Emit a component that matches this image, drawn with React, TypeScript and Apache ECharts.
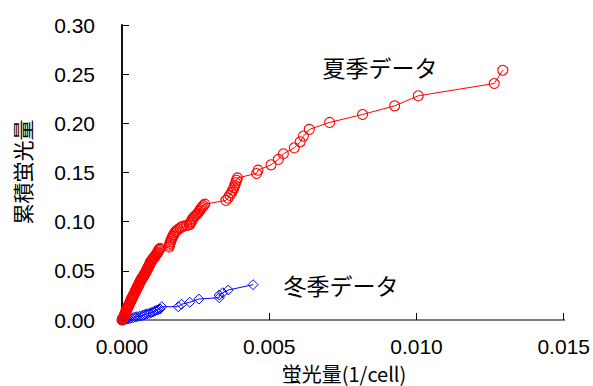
import React, { useEffect, useRef } from "react";
import * as echarts from "echarts";

const xTicks = [0, 0.005, 0.01, 0.015];
const yTicks = [0, 0.05, 0.1, 0.15, 0.2, 0.25, 0.3];

const summerX = [
  0, 0.00001, 0.00002, 0.00003, 0.00005, 0.00006, 0.00007, 0.00009, 0.0001, 0.00011, 0.00013, 0.00014, 0.00016,
  0.00017, 0.00018, 0.0002, 0.00021, 0.00022, 0.00024, 0.00025, 0.00027, 0.00028, 0.0003, 0.00031, 0.00032,
  0.00034, 0.00035, 0.00037, 0.00038, 0.00039, 0.00041, 0.00042, 0.00044, 0.00045, 0.00046, 0.00048, 0.00049,
  0.00051, 0.00052, 0.00054, 0.00055, 0.00056, 0.00058, 0.00059, 0.00061, 0.00062, 0.00064, 0.00065, 0.00067,
  0.00068, 0.0007, 0.00071, 0.00073, 0.00075, 0.00076, 0.00078, 0.0008, 0.00081, 0.00083, 0.00085, 0.00086,
  0.00088, 0.0009, 0.00091, 0.00093, 0.00095, 0.00097, 0.00098, 0.001, 0.00102, 0.00104, 0.00106, 0.00108,
  0.0011, 0.00112, 0.00114, 0.00116, 0.00118, 0.0012, 0.00122, 0.00125, 0.00127, 0.00129,
  0.0016, 0.00161, 0.00163, 0.00165, 0.00167, 0.0017, 0.00173, 0.00175, 0.00178, 0.00182, 0.00187, 0.00192,
  0.00198, 0.00203, 0.0021, 0.0022, 0.00229, 0.00232, 0.00235, 0.00238, 0.00241, 0.00245, 0.0025, 0.00254,
  0.00258, 0.00262, 0.00265, 0.00268, 0.00272, 0.00276, 0.00281,
  0.00353, 0.0036, 0.00366, 0.00372, 0.00376, 0.0038, 0.00383, 0.00386, 0.00389, 0.00392,
  0.00457, 0.00462, 0.00506, 0.00531, 0.00548, 0.00585, 0.00605, 0.00616, 0.00636, 0.00705, 0.00817, 0.00926,
  0.01006, 0.01264, 0.01293,
];
const summerY = [
  0, 0.0004, 0.0009, 0.0014, 0.0025, 0.0031, 0.0039, 0.0053, 0.0062, 0.0071, 0.0085, 0.0092, 0.0106,
  0.0111, 0.0119, 0.0131, 0.0139, 0.0144, 0.0158, 0.0163, 0.0177, 0.0182, 0.0196, 0.0200, 0.0209,
  0.0220, 0.0227, 0.0239, 0.0247, 0.0251, 0.0265, 0.0269, 0.0283, 0.0288, 0.0296, 0.0306, 0.0314,
  0.0324, 0.0331, 0.0343, 0.0349, 0.0357, 0.0367, 0.0375, 0.0384, 0.0392, 0.0403, 0.0407, 0.0417,
  0.0423, 0.0433, 0.0436, 0.0447, 0.0456, 0.0461, 0.0472, 0.0483, 0.0488, 0.0501, 0.0512, 0.0521,
  0.0531, 0.0543, 0.0549, 0.0562, 0.0573, 0.0586, 0.0592, 0.0601, 0.0609, 0.0617, 0.0625, 0.0633,
  0.0640, 0.0649, 0.0655, 0.0665, 0.0674, 0.0685, 0.0694, 0.0709, 0.0718, 0.0729,
  0.0742, 0.0762, 0.078, 0.0796, 0.0815, 0.0832, 0.085, 0.0866, 0.0885, 0.09, 0.0912, 0.0925,
  0.0937, 0.0948, 0.0955, 0.0962, 0.0968, 0.0985, 0.1, 0.1018, 0.1034, 0.105, 0.1062, 0.1075,
  0.1088, 0.1103, 0.1118, 0.1133, 0.1148, 0.1163, 0.1178,
  0.1216, 0.124, 0.1268, 0.1295, 0.132, 0.1345, 0.137, 0.1395, 0.142, 0.1445,
  0.149, 0.1524, 0.1578, 0.1633, 0.169, 0.1751, 0.1812, 0.187, 0.1938, 0.2009, 0.209, 0.2178,
  0.228, 0.2405, 0.254,
];

const winterX = [
  0, 0.00003, 0.00006, 0.00009, 0.00012, 0.00017, 0.00023, 0.0003, 0.00038, 0.00045, 0.00051, 0.0006, 0.00068,
  0.00074, 0.00079, 0.00086, 0.00093, 0.001, 0.00107, 0.00113, 0.00118, 0.00124, 0.00129, 0.00135, 0.00191,
  0.00202, 0.0023, 0.00261, 0.0033, 0.0033, 0.00342, 0.00361, 0.00445,
];
const winterY = [
  0, 0.0003, 0.0005, 0.0006, 0.0007, 0.001, 0.0013, 0.0018, 0.0024, 0.0029, 0.0034, 0.0039, 0.0044,
  0.0051, 0.0058, 0.0063, 0.0068, 0.0076, 0.0084, 0.0093, 0.0102, 0.0106, 0.0112, 0.0135, 0.0135,
  0.016, 0.018, 0.0213, 0.0227, 0.0254, 0.0277, 0.0305, 0.0359,
];

const summerLabel = "夏季データ";
const winterLabel = "冬季データ";
const xName = "蛍光量(1/cell)";
const yName = "累積蛍光量";

const LATIN = "'Liberation Sans', Arial, sans-serif";
const CJK = "'Noto Sans CJK JP', 'Liberation Sans', sans-serif";

export default function App() {
  const ref = useRef<HTMLDivElement>(null);
  useEffect(() => {
    if (!ref.current) return;
    const chart = echarts.init(ref.current, null, { renderer: "svg" });
    const summer = summerX.map((x, i) => [x, summerY[i]]);
    const winter = winterX.map((x, i) => [x, winterY[i]]);
    chart.setOption({
      animation: false,
      backgroundColor: "#fff",
      grid: { left: 122, right: 26, top: 25, bottom: 66 },
      xAxis: [
        {
          type: "value",
          min: xTicks[0],
          max: xTicks[xTicks.length - 1],
          interval: 0.005,
          axisLine: { show: true, lineStyle: { color: "#333", width: 2 } },
          axisTick: { show: true, inside: true, length: 7, lineStyle: { color: "#000", width: 1 } },
          axisLabel: {
            margin: 16,
            fontSize: 21,
            color: "#000",
            fontFamily: LATIN,
            formatter: (v: number) => v.toFixed(3),
          },
          splitLine: { show: false },
        },
        {
          type: "value",
          position: "top",
          min: xTicks[0],
          max: xTicks[xTicks.length - 1],
          axisLine: { show: true, lineStyle: { color: "#808080", width: 2 } },
          axisTick: { show: false },
          axisLabel: { show: false },
          splitLine: { show: false },
        },
      ],
      yAxis: [
        {
          type: "value",
          min: yTicks[0],
          max: yTicks[yTicks.length - 1],
          interval: 0.05,
          axisLine: { show: true, lineStyle: { color: "#000", width: 1 } },
          axisTick: { show: true, inside: true, length: 7, lineStyle: { color: "#000", width: 1 } },
          axisLabel: {
            margin: 27,
            fontSize: 21,
            color: "#000",
            fontFamily: LATIN,
            formatter: (v: number) => v.toFixed(2),
          },
          splitLine: { show: false },
        },
        {
          type: "value",
          position: "right",
          min: yTicks[0],
          max: yTicks[yTicks.length - 1],
          axisLine: { show: true, lineStyle: { color: "#111", width: 2 } },
          axisTick: { show: false },
          axisLabel: { show: false },
          splitLine: { show: false },
        },
      ],
      series: [
        {
          name: summerLabel,
          type: "line",
          data: summer,
          symbol: "circle",
          symbolSize: 10,
          showAllSymbol: true,
          itemStyle: { color: "rgba(255,255,255,0)", borderColor: "#ff0000", borderWidth: 1.1 },
          lineStyle: { color: "#ff0000", width: 1 },
          z: 3,
        },
        {
          name: winterLabel,
          type: "line",
          data: winter,
          symbol: "diamond",
          symbolSize: 10,
          showAllSymbol: true,
          itemStyle: { color: "rgba(255,255,255,0)", borderColor: "#0000ff", borderWidth: 1 },
          lineStyle: { color: "#0000ff", width: 1 },
          z: 2,
        },
      ],
      graphic: [
        {
          type: "text",
          x: 380,
          y: 67,
          style: { text: summerLabel, font: `23px ${CJK}`, fill: "#000", textAlign: "center", textVerticalAlign: "middle" },
        },
        {
          type: "text",
          x: 341,
          y: 285,
          style: { text: winterLabel, font: `23px ${CJK}`, fill: "#000", textAlign: "center", textVerticalAlign: "middle" },
        },
        {
          type: "text",
          x: 344,
          y: 373,
          style: { text: xName, font: `20px ${CJK}`, fill: "#000", textAlign: "center", textVerticalAlign: "middle" },
        },
        {
          type: "text",
          x: 22,
          y: 172,
          rotation: Math.PI / 2,
          style: { text: yName, font: `21px ${CJK}`, fill: "#000", textAlign: "center", textVerticalAlign: "middle" },
        },
      ],
    });
    return () => chart.dispose();
  }, []);
  return (
    <div
      ref={ref}
      style={{ position: "fixed", left: 0, top: 0, width: 593, height: 386 }}
    />
  );
}
